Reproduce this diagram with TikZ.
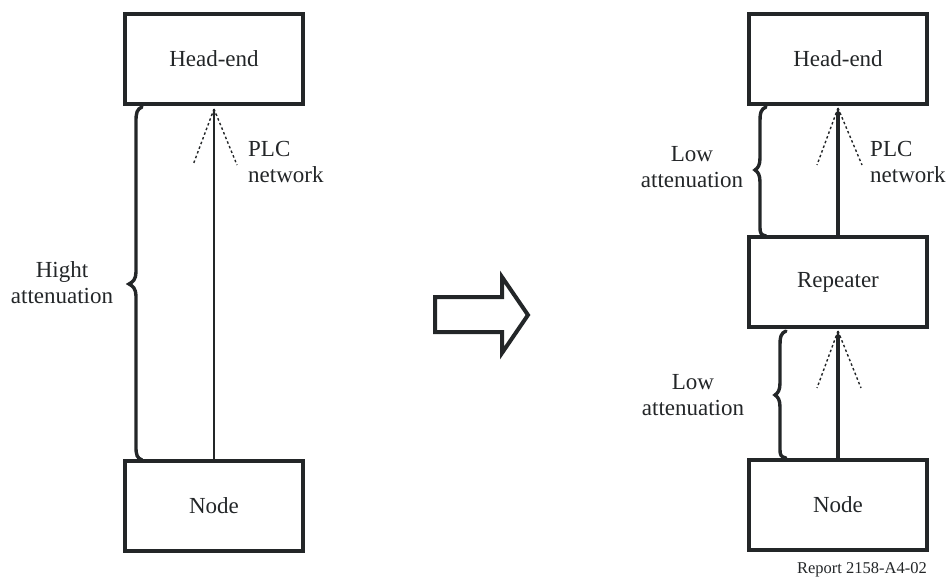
\documentclass[tikz,border=0pt]{standalone}
\usepackage{fontspec}
\setmainfont{Liberation Serif}
\usetikzlibrary{arrows.meta}
\definecolor{ink}{RGB}{35,38,40}
\begin{document}
\begin{tikzpicture}[x=1pt,y=-1pt,
  every node/.style={font=\fontsize{23}{26}\selectfont, text=ink},
  boxnode/.style={draw=ink, line width=4pt, minimum width=178pt, minimum height=90pt, inner sep=0pt},
  lbl/.style={align=center, inner sep=0pt},
  thinarrow/.style={draw=ink, line width=1.8pt, -{Stealth[length=6pt,width=3.6pt]}},
  thickarrow/.style={draw=ink, line width=3.6pt, -{Stealth[length=7pt,width=5pt]}},
  dotline/.style={draw=ink, line width=1.4pt, dash pattern=on 2.5pt off 2.5pt},
  bracestyle/.style={draw=ink, line width=3.4pt, line cap=round},
  bigarrow/.style={draw=ink, line width=4pt, miter limit=10}]
\useasboundingbox (0,0) rectangle (947,580);

% left side
\node[boxnode] (lhead) at (214,59) {Head-end};
\node[boxnode] (lnode) at (214,506) {Node};
\coordinate (lapex) at (214,109);
\coordinate (ldl) at (193,165);
\coordinate (ldr) at (237,165);
\draw[thinarrow] (lnode.north) -- (lapex);
\draw[dotline] (lapex) -- (ldl);
\draw[dotline] (lapex) -- (ldr);
\node[lbl, align=left, anchor=north west] (lplc) at (248,141) {PLC\\network};
\draw[bracestyle] (142,107) .. controls (137,109) and (136,113) .. (136,121) -- (136,272)
  .. controls (136,279) and (133,282) .. (129,284) .. controls (133,286) and (136,289) .. (136,296)
  -- (136,447) .. controls (136,455) and (137,458) .. (142,460);
\node[lbl] (lhigh) at (62,283) {Hight\\attenuation};

% big arrow
\draw[bigarrow] (435,297) -- (502,297) -- (502,277) -- (528,315) -- (502,353) -- (502,332) -- (435,332) -- cycle;

% right side
\node[boxnode] (rhead) at (838,59) {Head-end};
\node[boxnode] (rrep) at (838,282) {Repeater};
\node[boxnode] (rnode) at (838,505) {Node};
\coordinate (rapex1) at (838,108);
\coordinate (rd1l) at (817,165);
\coordinate (rd1r) at (862,165);
\coordinate (rapex2) at (838,331);
\coordinate (rd2l) at (817,388);
\coordinate (rd2r) at (861,388);
\draw[thickarrow] (rrep.north) -- (rapex1);
\draw[thickarrow] (rnode.north) -- (rapex2);
\draw[dotline] (rapex1) -- (rd1l);
\draw[dotline] (rapex1) -- (rd1r);
\draw[dotline] (rapex2) -- (rd2l);
\draw[dotline] (rapex2) -- (rd2r);
\node[lbl, align=left, anchor=north west] (rplc) at (870,141) {PLC\\network};
\draw[bracestyle] (766,107) .. controls (761,109) and (760,113) .. (760,120) -- (760,158)
  .. controls (760,165) and (758,168) .. (755,170) .. controls (758,172) and (760,175) .. (760,182)
  -- (760,228) .. controls (760,233) and (761,235) .. (766,236);
\node[lbl] (rlow1) at (692,167) {Low\\attenuation};
\draw[bracestyle] (786,331) .. controls (781,333) and (780,337) .. (780,344) -- (780,383)
  .. controls (780,390) and (778,393) .. (775,395) .. controls (778,397) and (780,400) .. (780,407)
  -- (780,450) .. controls (780,455) and (781,457) .. (786,458);
\node[lbl] (rlow2) at (693,395) {Low\\attenuation};

\node[inner sep=0pt, anchor=base, font=\fontsize{16.5}{18}\selectfont] (rep) at (862,573) {Report 2158-A4-02};
\end{tikzpicture}
\end{document}
